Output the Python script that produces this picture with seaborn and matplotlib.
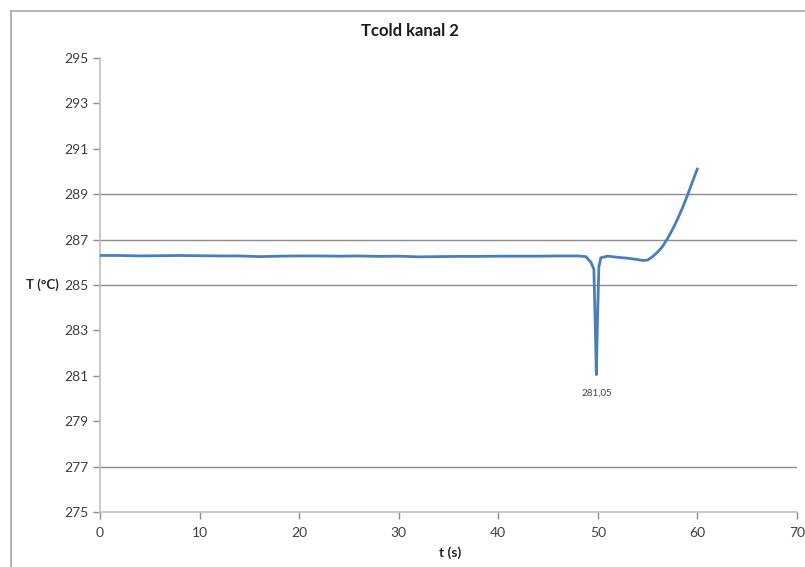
import matplotlib
matplotlib.use("Agg")
import matplotlib.pyplot as plt
from matplotlib.lines import Line2D
import seaborn as sns
import pandas as pd

t_s = [0, 2, 4, 6, 8, 10, 12, 14, 16, 18, 20, 22, 24, 26, 28, 30, 32, 34, 36, 38,
       40, 42, 44, 46, 48, 48.8, 49.3, 49.6, 49.75, 49.85, 49.95, 50.1, 50.3, 51,
       52, 53, 54, 54.5, 55, 55.5, 56, 56.5, 57, 57.5, 58, 58.5, 59, 59.5, 60]
temp_c = [286.30, 286.30, 286.28, 286.29, 286.30, 286.29, 286.28, 286.28, 286.25,
          286.27, 286.28, 286.28, 286.27, 286.28, 286.26, 286.27, 286.24, 286.25,
          286.26, 286.26, 286.27, 286.27, 286.27, 286.28, 286.28, 286.25, 286.0,
          285.7, 283.0, 281.05, 283.2, 285.8, 286.2, 286.27, 286.22, 286.18, 286.12,
          286.08, 286.10, 286.25, 286.45, 286.7, 287.05, 287.45, 287.9, 288.4,
          288.95, 289.55, 290.12]
y_ticks = [275, 277, 279, 281, 283, 285, 287, 289, 291, 293, 295]
x_ticks = [0, 10, 20, 30, 40, 50, 60, 70]
grid_levels = [277, 285, 287, 289]
min_label = "281,05"

df = pd.DataFrame({"t": t_s, "T": temp_c})

sns.set_style("white")
plt.rcParams["font.family"] = ["Lato", "DejaVu Sans"]

fig = plt.figure(figsize=(8.05, 5.67), dpi=100)
ax = fig.add_axes([100 / 805, 1 - 512 / 567, 697 / 805, 454 / 567])

grid_col = "#8c8c8c"
for g in grid_levels:
    ax.axhline(g, color=grid_col, lw=1, zorder=1)

sns.lineplot(data=df, x="t", y="T", ax=ax, color="#4a7ebb", lw=2, zorder=3)

ax.set_xlim(0, 70)
ax.set_ylim(275, 295)
ax.set_xticks(x_ticks)
ax.set_yticks(y_ticks)
ax.tick_params(axis="both", labelsize=10, labelcolor="#404040", color=grid_col,
               length=5, width=1, direction="out", left=True, bottom=True)
ax.tick_params(axis="x", pad=6)
for side in ["top", "right"]:
    ax.spines[side].set_visible(False)
for side in ["left", "bottom"]:
    ax.spines[side].set_color("#bfbfbf")
    ax.spines[side].set_linewidth(1.2)

ax.set_xlabel("t (s)", fontsize=10, fontweight="bold", color="#262626")
ax.xaxis.set_label_coords((450 - 100) / 697, -0.075)
ax.set_ylabel("T (°C)", fontsize=9.5, fontweight="bold", color="#262626",
              rotation=0, ha="right", va="center")
ax.yaxis.set_label_coords((59 - 100) / 697, 0.5)

# label at the minimum
i_min = temp_c.index(min(temp_c))
ax.annotate(min_label, (t_s[i_min], temp_c[i_min]), xytext=(0, -10),
            textcoords="offset points", ha="center", va="top",
            fontsize=7, color="#404040")

fig.text(410 / 805, 1 - 31 / 567, "Tcold kanal 2", ha="center", va="center",
         fontsize=12, fontweight="bold", color="#1a1a1a")

# outer chart border
fig.add_artist(Line2D([11 / 805, 11 / 805], [0, 1 - 11 / 567],
                      transform=fig.transFigure, color="#a6a6a6", lw=1.2))
fig.add_artist(Line2D([11 / 805, 1], [1 - 11 / 567, 1 - 11 / 567],
                      transform=fig.transFigure, color="#a6a6a6", lw=1.2))

fig.savefig("out.png", dpi=100)
